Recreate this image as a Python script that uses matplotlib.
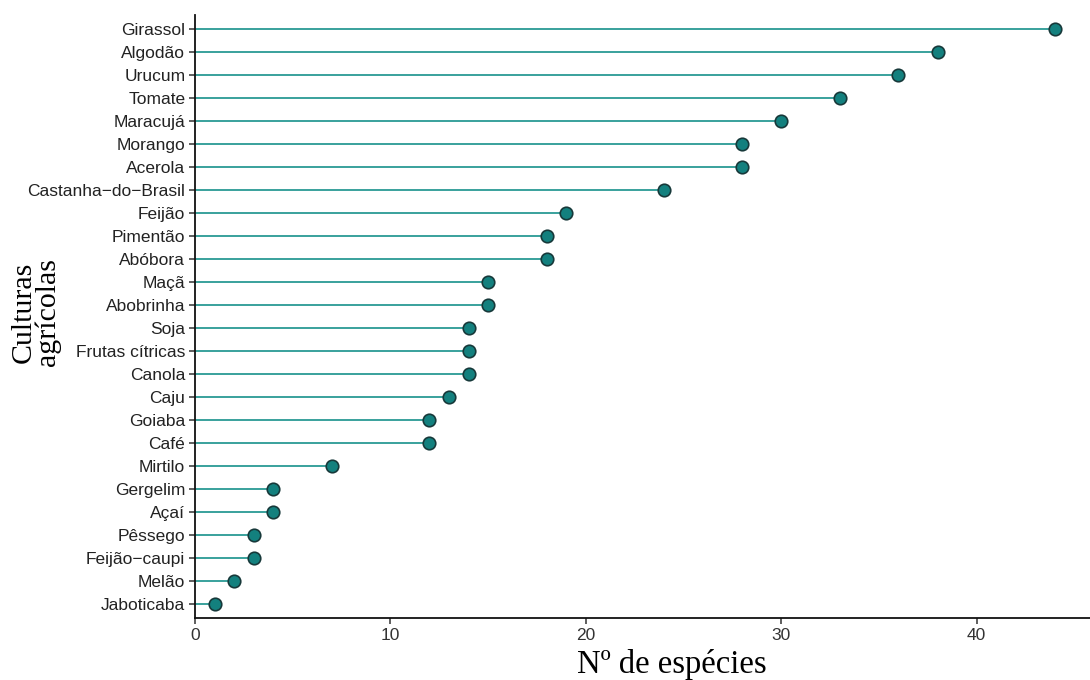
import numpy as np
import matplotlib
matplotlib.use("Agg")
import matplotlib.pyplot as plt

culturas = ["Girassol", "Algodão", "Urucum", "Tomate", "Maracujá", "Morango",
            "Acerola", "Castanha\u2212do\u2212Brasil", "Feijão", "Pimentão",
            "Abóbora", "Maçã", "Abobrinha", "Soja", "Frutas cítricas",
            "Canola", "Caju", "Goiaba", "Café", "Mirtilo", "Gergelim", "Açaí",
            "Pêssego", "Feijão\u2212caupi", "Melão", "Jaboticaba"]
especies = [44, 38, 36, 33, 30, 28, 28, 24, 19, 18, 18, 15, 15, 14, 14, 14,
            13, 12, 12, 7, 4, 4, 3, 3, 2, 1]
x_ticks = [0, 10, 20, 30, 40]

# bottom-up order so Girassol sits on top
cult = culturas[::-1]
vals = especies[::-1]
pos = np.arange(len(cult))

fig = plt.figure(figsize=(10.9, 6.8), dpi=100)
ax = fig.add_axes([0.1789, 0.0912, 0.8211, 0.887])

ax.hlines(pos, 0, vals, color="#2a9a94", linewidth=1.3, zorder=1)
ax.plot(vals, pos, "o", markersize=9, markerfacecolor="#13807e",
        markeredgecolor="#17393a", markeredgewidth=1.2, zorder=2)

ax.set_xlim(0, 45.8)
ax.set_ylim(-0.6, len(cult) - 0.4)
ax.set_yticks(pos)
ax.set_yticklabels(cult, fontfamily="Liberation Sans", fontsize=12.5,
                   color="#222222")
ax.set_xticks(x_ticks)
ax.set_xticklabels([str(t) for t in x_ticks], fontfamily="Liberation Sans",
                   fontsize=12.5, color="#333333")

for s in ["top", "right"]:
    ax.spines[s].set_visible(False)
for s in ["left", "bottom"]:
    ax.spines[s].set_linewidth(1.3)
    ax.spines[s].set_color("#111111")
ax.tick_params(axis="both", length=4, width=1.1, color="#333333", pad=3)

# axis titles placed by hand, like the original
fig.text(672 / 1090, 1 - 664 / 680, "Nº de espécies",
         fontfamily="Liberation Serif", fontsize=23.5,
         ha="center", va="center")
fig.text(36 / 1090, 1 - 312 / 680, "Culturas\nagrícolas",
         fontfamily="Liberation Serif", fontsize=21.5, rotation=90,
         ha="center", va="center", multialignment="center",
         linespacing=0.9)

fig.savefig("out.png", dpi=100)
